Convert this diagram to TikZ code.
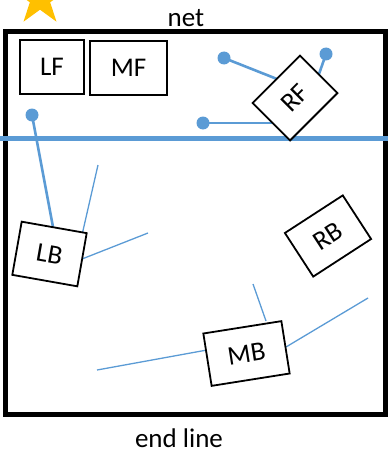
\documentclass[tikz,border=0pt]{standalone}
\usepackage{fontspec}
\setmainfont{Carlito}
\usetikzlibrary{shapes.geometric}
\definecolor{lineblue}{HTML}{5B9BD5}
\definecolor{stargold}{HTML}{FFC000}
\tikzset{
  box/.style={draw, line width=1.8pt, fill=white, inner sep=0pt, font=\fontsize{27}{31}\selectfont},
  lbl/.style={anchor=base, inner sep=0pt, text depth=0pt, font=\fontsize{27}{31}\selectfont},
  dot/.style={circle, fill=lineblue, inner sep=0pt, minimum size=13pt},
  midline/.style={draw=lineblue, line width=2.6pt},
  thinline/.style={draw=lineblue, line width=1.3pt},
  netline/.style={draw=lineblue, line width=5pt},
  court/.style={draw=black, line width=5pt}
}
\begin{document}
\begin{tikzpicture}[x=1pt,y=-1pt]
\useasboundingbox (0,0) rectangle (388,452);
% star
\node[star, star points=5, star point ratio=2.618, minimum size=56pt, inner sep=0pt, fill=stargold] (star) at (40,-1) {};
% court
\draw[court] (5.5,32) rectangle (385.5,414);
% net
\coordinate (netL) at (0,138.5);
\coordinate (netR) at (388,138.5);
\draw[netline] (netL) -- (netR);
% labels
\node[lbl] (net) at (186,27) {net};
\node[lbl] (end) at (179,447) {end line};
% connector end points
\coordinate (lfdot) at (32,115);
\coordinate (lbtop) at (53,227);
\coordinate (rfd1) at (224,58);
\coordinate (rfa1) at (277,79);
\coordinate (rfd2) at (326,54);
\coordinate (rfa2) at (319,74);
\coordinate (rfd3) at (203,123);
\coordinate (rfa3) at (272,123);
\coordinate (lba1) at (82,235);
\coordinate (lbe1) at (98,165);
\coordinate (lba2) at (82,259);
\coordinate (lbe2) at (148,233);
\coordinate (mba1) at (266,321);
\coordinate (mbe1) at (253,284);
\coordinate (mba2) at (207,350);
\coordinate (mbe2) at (97,370);
\coordinate (mba3) at (286,347);
\coordinate (mbe3) at (368,298);
% lines
\draw[midline] (lfdot) -- (lbtop);
\draw[midline] (rfd1) -- (rfa1);
\draw[midline] (rfd2) -- (rfa2);
\draw[midline] (rfd3) -- (rfa3);
\draw[thinline] (lba1) -- (lbe1);
\draw[thinline] (lba2) -- (lbe2);
\draw[thinline] (mba1) -- (mbe1);
\draw[thinline] (mba2) -- (mbe2);
\draw[thinline] (mba3) -- (mbe3);
% dots
\node[dot] (d0) at (lfdot) {};
\node[dot] (d1) at (rfd1) {};
\node[dot] (d2) at (rfd2) {};
\node[dot] (d3) at (rfd3) {};
% boxes
\node[box, minimum width=64pt, minimum height=54pt] (LF) at (52,67) {LF};
\node[box, minimum width=77pt, minimum height=54pt] (MF) at (128.5,68) {MF};
\node[box, minimum width=67pt, minimum height=53pt, rotate=45] (RF) at (295,98) {RF};
\node[box, minimum width=66pt, minimum height=54pt, rotate=-10] (LB) at (49.5,254) {LB};
\node[box, minimum width=69pt, minimum height=52pt, rotate=33] (RB) at (328,236) {RB};
\node[box, minimum width=79pt, minimum height=53pt, rotate=9] (MB) at (246.5,353.5) {MB};
\end{tikzpicture}
\end{document}
